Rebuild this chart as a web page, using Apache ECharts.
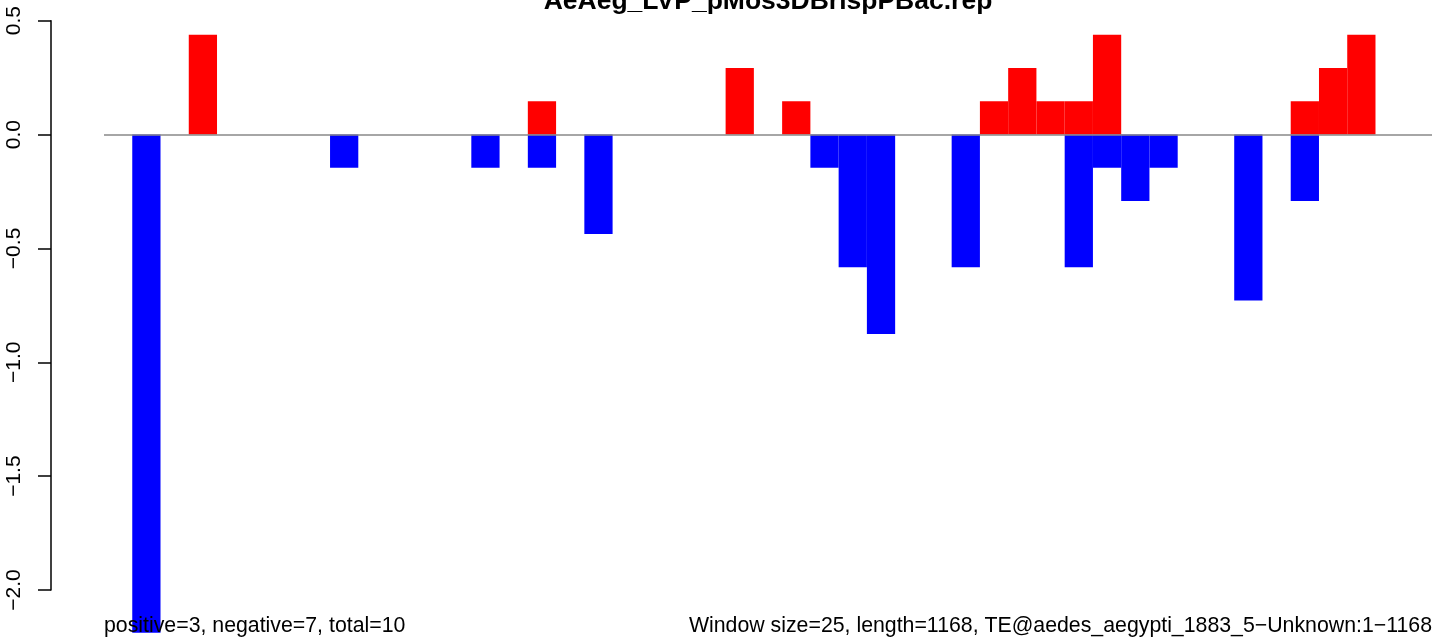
<!DOCTYPE html>
<html>
<head>
<meta charset="utf-8">
<script src="https://cdn.jsdelivr.net/npm/echarts@6/dist/echarts.min.js"></script>
<style>
html,body{margin:0;padding:0;background:#fff;}
#chart{width:1444px;height:644px;}
</style>
</head>
<body>
<div id="chart"></div>
<script>
// ---- data ----
const chartTitle = "AeAeg_LVP_pMos3DBrispPBac.rep";
const leftNote = "positive=3, negative=7, total=10";
const rightNote = "Window size=25, length=1168, TE@aedes_aegypti_1883_5\u2212Unknown:1\u22121168";
const windows = ["1","2","3","4","5","6","7","8","9","10","11","12","13","14","15","16","17","18","19","20",
  "21","22","23","24","25","26","27","28","29","30","31","32","33","34","35","36","37","38","39","40",
  "41","42","43","44","45","46","47"];
const positiveValues = [
  0, 0, 0, 0.438, 0, 0, 0, 0, 0, 0,
  0, 0, 0, 0, 0, 0.146, 0, 0, 0, 0,
  0, 0, 0.292, 0, 0.146, 0, 0, 0, 0, 0,
  0, 0.146, 0.292, 0.146, 0.146, 0.438, 0, 0, 0, 0,
  0, 0, 0.146, 0.292, 0.438, 0, 0];
const negativeValues = [
  0, -2.19, 0, 0, 0, 0, 0, 0, -0.146, 0,
  0, 0, 0, -0.146, 0, -0.146, 0, -0.438, 0, 0,
  0, 0, 0, 0, 0, -0.146, -0.584, -0.877, 0, 0,
  -0.584, 0, 0, 0, -0.584, -0.146, -0.292, -0.146, 0, 0,
  -0.730, 0, -0.292, 0, 0, 0, 0];
const yTicks = [-2.0, -1.5, -1.0, -0.5, 0.0, 0.5];
const yRangeMin = -2.19;

const FONT = "'Liberation Sans', Arial, Helvetica, sans-serif";
const chart = echarts.init(document.getElementById('chart'), null, {renderer: 'canvas'});

const option = {
  animation: false,
  backgroundColor: '#ffffff',
  grid: [
    {left: 104, right: 12, top: 20.7, bottom: 11.3},
    {left: 51, width: 1, top: 20.7, bottom: 54}
  ],
  xAxis: [
    {type: 'category', data: windows, gridIndex: 0, show: false, boundaryGap: true},
    {type: 'value', gridIndex: 1, show: false}
  ],
  yAxis: [
    {type: 'value', gridIndex: 0, min: yRangeMin, max: yTicks[yTicks.length - 1], show: false},
    {type: 'value', gridIndex: 1, min: yTicks[0], max: yTicks[yTicks.length - 1], interval: 0.5,
      axisLine: {show: true, lineStyle: {color: '#000', width: 1.5}},
      axisTick: {show: true, length: 13, lineStyle: {color: '#000', width: 1.5}},
      splitLine: {show: false},
      axisLabel: {
        rotate: 90, margin: 26, color: '#000', fontSize: 21, fontFamily: FONT,
        formatter: v => v.toFixed(1).replace('-', '\u2212')
      }
    }
  ],
  series: [
    {
      type: 'line', xAxisIndex: 0, yAxisIndex: 0, data: [], z: 1, silent: true,
      markLine: {
        silent: true, symbol: 'none', label: {show: false},
        lineStyle: {color: '#888888', width: 1.5, type: 'solid'},
        data: [{yAxis: 0}]
      }
    },
    {
      type: 'bar', name: 'negative', xAxisIndex: 0, yAxisIndex: 0, data: negativeValues,
      barWidth: '100%', barGap: '-100%', barCategoryGap: 0, z: 2,
      itemStyle: {color: '#0000ff'}
    },
    {
      type: 'bar', name: 'positive', xAxisIndex: 0, yAxisIndex: 0, data: positiveValues,
      barWidth: '100%', barGap: '-100%', barCategoryGap: 0, z: 2,
      itemStyle: {color: '#ff0000'}
    }
  ],
  graphic: [
    {type: 'text', x: 768, y: 2, z: 10,
      style: {text: chartTitle, fill: '#000', font: 'bold 26.5px ' + FONT, textAlign: 'center', textVerticalAlign: 'middle'}},
    {type: 'text', x: 104, y: 626, z: 10,
      style: {text: leftNote, fill: '#000', font: '21.3px ' + FONT, textAlign: 'left', textVerticalAlign: 'middle'}},
    {type: 'text', x: 1432, y: 626, z: 10,
      style: {text: rightNote, fill: '#000', font: '21.3px ' + FONT, textAlign: 'right', textVerticalAlign: 'middle'}}
  ]
};
chart.setOption(option);
</script>
</body>
</html>
